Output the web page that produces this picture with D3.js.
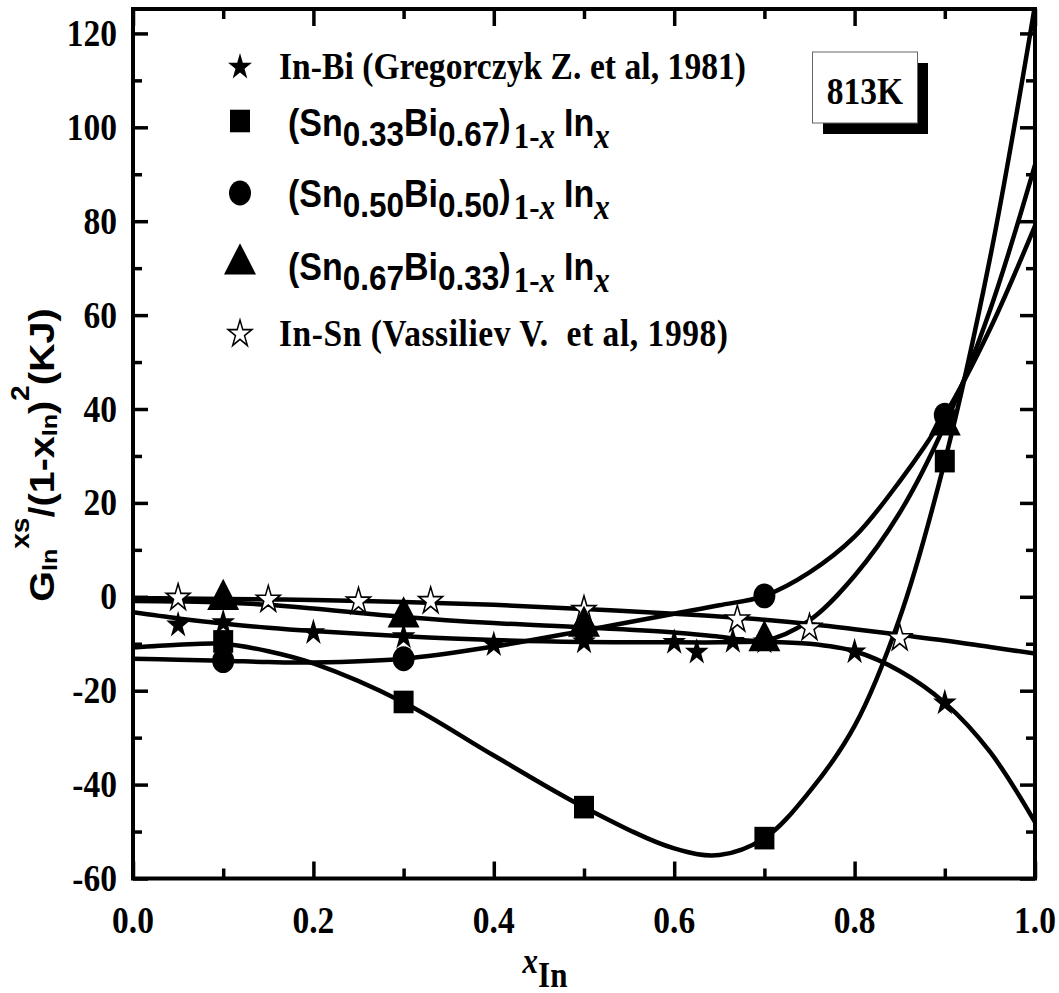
<!DOCTYPE html>
<html><head><meta charset="utf-8">
<script src="https://cdn.jsdelivr.net/npm/d3@7"></script>
<style>body{margin:0;background:#fff}svg{display:block}</style>
</head><body>
<svg id="chart" width="1059" height="993"></svg>
<script>
// ---------------- data ----------------
const xMajorTicks = [0, 0.2, 0.4, 0.6, 0.8, 1.0];
const xMinorTicks = [0.1, 0.3, 0.5, 0.7, 0.9];
const xTickLabels = ["0.0", "0.2", "0.4", "0.6", "0.8", "1.0"];
const yMajorTicks = [-60, -40, -20, 0, 20, 40, 60, 80, 100, 120];
const yMinorTicks = [-50, -30, -10, 10, 30, 50, 70, 90, 110];

// measured points
const inBiX = [0.05, 0.1, 0.2, 0.3, 0.4, 0.5, 0.6, 0.625, 0.665, 0.7, 0.8, 0.9];
const inBiY = [-6.0, -5.5, -7.6, -8.5, -10.2, -9.6, -9.7, -11.8, -9.5, -9.6, -11.7, -22.6];
const snBiX = [0.1, 0.3, 0.5, 0.7, 0.9];
const sn33Y = [-9.5, -22.4, -44.8, -51.4, 28.9];
const sn50Y = [-13.6, -13.2, -7.0, 0.2, 38.7];
const sn67Y = [-0.6, -4.3, -6.3, -9.4, 36.6];
const inSnX = [0.05, 0.15, 0.25, 0.33, 0.5, 0.67, 0.75, 0.85];
const inSnY = [-0.2, -0.6, -1.0, -0.9, -2.8, -4.8, -6.6, -8.8];

// fitted curves
const fitX     = [0, 0.05, 0.1, 0.15, 0.2, 0.3, 0.4, 0.5, 0.6, 0.65, 0.7, 0.75, 0.8, 0.85, 0.9, 0.95, 1.0];
const inBiFit  = [-3.3, -4.6, -5.7, -6.6, -7.3, -8.4, -9.2, -9.6, -9.7, -9.7, -9.6, -10.0, -11.6, -15.8, -22.6, -33, -48];
const sn33Fit  = [-10.8, -10.2, -10.0, -11.6, -14.2, -22.5, -33.8, -44.8, -53.6, -55.0, -51.4, -41.5, -27.5, -4.5, 28.9, 72, 126];
const sn50Fit  = [-13.2, -13.4, -13.6, -13.9, -14.0, -13.2, -10.6, -7.2, -3.6, -1.8, 0.2, 5.2, 12.8, 24.6, 38.7, 57, 79];
const sn67Fit  = [-0.9, -1.0, -1.2, -1.7, -2.5, -4.3, -5.6, -6.5, -7.6, -8.5, -9.3, -5.0, 4.5, 17.9, 36.6, 61, 92];
const inSnFit  = [-0.3, -0.35, -0.45, -0.55, -0.7, -1.1, -1.7, -2.6, -3.6, -4.2, -4.9, -5.8, -6.9, -8.1, -9.3, -10.7, -12.1];

const boxLabel = "813K";

// ---------------- layout ----------------
const SY = 1.13;               // vertical stretch seen in the picture
const M = {left: 133, right: 1035, top: 9, bottom: 878.5};
const SERIF = "'Liberation Serif','Times New Roman',serif";
const SANS = "'Liberation Sans',Arial,sans-serif";

const svg = d3.select("#chart");
const x = d3.scaleLinear().domain([0, 1]).range([M.left, M.right]);
const y = d3.scaleLinear().domain([-60, 125.2]).range([M.bottom, M.top]);

svg.append("defs").append("clipPath").attr("id", "plotclip")
  .append("rect").attr("x", M.left).attr("y", M.top)
  .attr("width", M.right - M.left).attr("height", M.bottom - M.top);

// ---------------- fitted curves ----------------
const line = d3.line().x(d => x(d[0])).y(d => y(d[1])).curve(d3.curveCatmullRom.alpha(0.5));
const curves = [inSnFit, inBiFit, sn33Fit, sn50Fit, sn67Fit];
const gLines = svg.append("g").attr("clip-path", "url(#plotclip)");
curves.forEach(vals => {
  gLines.append("path").datum(fitX.map((v, i) => [v, vals[i]]))
    .attr("d", line).attr("fill", "none").attr("stroke", "#000")
    .attr("stroke-width", 4.5).attr("stroke-linejoin", "round");
});

// ---------------- markers ----------------
const symStar = d3.symbol().type(d3.symbolStar).size(175);
const symSquare = d3.symbol().type(d3.symbolSquare).size(400);
const symCircle = d3.symbol().type(d3.symbolCircle).size(380);
const symTri = d3.symbol().type(d3.symbolTriangle).size(443);

function markers(xs, ys, sym, open) {
  svg.append("g").selectAll("path").data(xs.map((v, i) => [v, ys[i]])).join("path")
    .attr("d", sym())
    .attr("transform", d => `translate(${x(d[0])},${y(d[1])}) scale(1,${SY})`)
    .attr("fill", open ? "#fff" : "#000")
    .attr("stroke", "#000").attr("stroke-width", open ? 1.5 : 0);
}
markers(inSnX, inSnY, symStar, true);
markers(inBiX, inBiY, symStar, false);
markers(snBiX, sn33Y, symSquare, false);
markers(snBiX, sn50Y, symCircle, false);
markers(snBiX, sn67Y, symTri, false);

// ---------------- axes (ticks inward on all sides) ----------------
function axisG(axis, tx, ty) {
  const g = svg.append("g").attr("transform", `translate(${tx},${ty})`).call(axis);
  g.select(".domain").remove();
  g.selectAll("line").attr("stroke", "#000").attr("stroke-width", 3.5);
  g.selectAll("text").remove();
}
axisG(d3.axisBottom(x).tickValues(xMajorTicks).tickSize(-17), 0, M.bottom);
axisG(d3.axisBottom(x).tickValues(xMinorTicks).tickSize(-10), 0, M.bottom);
axisG(d3.axisTop(x).tickValues(xMajorTicks).tickSize(-17), 0, M.top);
axisG(d3.axisTop(x).tickValues(xMinorTicks).tickSize(-10), 0, M.top);
axisG(d3.axisLeft(y).tickValues(yMajorTicks).tickSize(-15), M.left, 0);
axisG(d3.axisLeft(y).tickValues(yMinorTicks).tickSize(-9), M.left, 0);
axisG(d3.axisRight(y).tickValues(yMajorTicks).tickSize(-15), M.right, 0);
axisG(d3.axisRight(y).tickValues(yMinorTicks).tickSize(-9), M.right, 0);

svg.append("rect").attr("x", M.left).attr("y", M.top)
  .attr("width", M.right - M.left).attr("height", M.bottom - M.top)
  .attr("fill", "none").attr("stroke", "#000").attr("stroke-width", 4);

// tick labels
svg.append("g").selectAll("text").data(yMajorTicks).join("text")
  .attr("transform", d => `translate(117,${y(d) + 12.5}) scale(1,${SY})`)
  .attr("text-anchor", "end").attr("font-family", SERIF).attr("font-weight", "bold")
  .attr("font-size", 33.5).text(d => d);
svg.append("g").selectAll("text").data(xMajorTicks).join("text")
  .attr("transform", (d) => `translate(${x(d)},933) scale(1,${SY})`)
  .attr("text-anchor", "middle").attr("font-family", SERIF).attr("font-weight", "bold")
  .attr("font-size", 33.5).text((d, i) => xTickLabels[i]);

// x axis title
const xt = svg.append("text").attr("transform", `translate(545,973) scale(1,${SY})`)
  .attr("text-anchor", "middle").attr("font-family", SERIF).attr("font-weight", "bold").attr("font-size", 31);
xt.append("tspan").attr("font-style", "italic").text("x");
xt.append("tspan").attr("dy", 12.4).text("In");

// y axis title
const yt = svg.append("text").attr("transform", `translate(54,455) scale(1,${SY}) rotate(-90)`)
  .attr("text-anchor", "middle").attr("font-family", SANS).attr("font-weight", "bold").attr("font-size", 35);
yt.append("tspan").text("G");
yt.append("tspan").attr("font-size", 22).attr("dy", 3).text("In");
yt.append("tspan").attr("font-size", 25).attr("dy", -28).text("xs");
yt.append("tspan").attr("dy", 25).text("/(1-x");
yt.append("tspan").attr("font-size", 22).attr("dy", 3).text("In");
yt.append("tspan").attr("dy", -3).text(")");
yt.append("tspan").attr("font-size", 25).attr("dy", -25).text("2");
yt.append("tspan").attr("dy", 25).text("(KJ)");

// ---------------- legend ----------------
const legSymX = 240;
function legSym(sym, cy, open) {
  svg.append("path").attr("d", sym())
    .attr("transform", `translate(${legSymX},${cy}) scale(1,${SY})`)
    .attr("fill", open ? "#fff" : "#000").attr("stroke", "#000").attr("stroke-width", open ? 1.5 : 0);
}
legSym(symStar, 67, false);
legSym(symSquare, 121, false);
legSym(symCircle, 193, false);
legSym(symTri, 264, false);
legSym(symStar, 334, true);

function serifLabel(txt, bx, by, len) {
  const t = svg.append("text").attr("transform", `translate(${bx},${by}) scale(1,${SY})`)
    .attr("font-family", SERIF).attr("font-weight", "bold").attr("font-size", 33.5)
    .style("white-space", "pre").text(txt);
  if (len) t.attr("textLength", len).attr("lengthAdjust", "spacing");
}
serifLabel("In-Bi (Gregorczyk Z. et al, 1981)", 279, 79, 467);
serifLabel("In-Sn (Vassiliev V.  et al, 1998)", 279, 346, 449);

function alloyLabel(a, b, by) {
  const t = svg.append("text").attr("transform", `translate(288,${by}) scale(1,${SY})`)
    .attr("font-family", SANS).attr("font-weight", "bold").attr("font-size", 34);
  t.append("tspan").text("(Sn");
  t.append("tspan").attr("font-size", 31.5).attr("dy", 9).text(a);
  t.append("tspan").attr("dy", -9).text("Bi");
  t.append("tspan").attr("font-size", 31.5).attr("dy", 9).text(b);
  t.append("tspan").attr("dy", -9).text(")");
  t.append("tspan").attr("font-family", SERIF).attr("font-size", 31).attr("dy", 11).attr("dx", 3).text("1-");
  t.append("tspan").attr("font-family", SERIF).attr("font-style", "italic").attr("font-size", 31).text("x");
  t.append("tspan").attr("dy", -11).attr("dx", 9).text("In");
  t.append("tspan").attr("font-family", SERIF).attr("font-style", "italic").attr("font-size", 31).attr("dy", 11).text("x");
}
alloyLabel("0.33", "0.67", 136);
alloyLabel("0.50", "0.50", 207);
alloyLabel("0.67", "0.33", 280);

// ---------------- 813K box ----------------
svg.append("rect").attr("x", 823).attr("y", 63).attr("width", 105).attr("height", 71).attr("fill", "#000");
svg.append("rect").attr("x", 812.5).attr("y", 52).attr("width", 105).attr("height", 71)
  .attr("fill", "#fff").attr("stroke", "#666").attr("stroke-width", 1);
svg.append("text").attr("transform", `translate(865,104) scale(1,${SY})`)
  .attr("text-anchor", "middle").attr("font-family", SERIF).attr("font-weight", "bold")
  .attr("font-size", 33.5).text(boxLabel);
</script>
</body></html>
